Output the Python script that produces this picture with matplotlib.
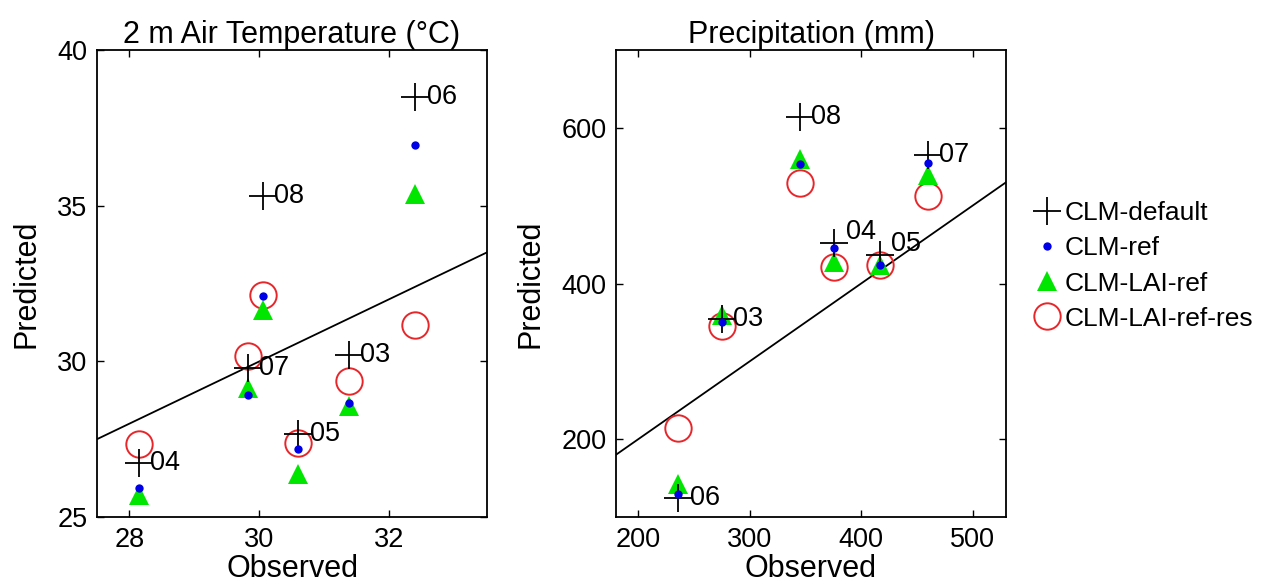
import matplotlib
matplotlib.use('Agg')
import matplotlib.pyplot as plt
import numpy as np

plt.rcParams['font.family'] = ['Liberation Sans', 'DejaVu Sans']

# ---------------- donnees ----------------
years = ['03', '04', '05', '06', '07', '08']

# 2 m air temperature (degC)
t_obs = [31.38, 28.15, 30.60, 32.40, 29.82, 30.05]
t_default = [30.20, 26.72, 27.65, 38.50, 29.79, 35.31]
t_ref = [28.67, 25.93, 27.17, 36.94, 28.93, 32.10]
t_lai = [28.57, 25.72, 26.37, 35.37, 29.15, 31.64]
t_res = [29.37, 27.33, 27.39, 31.16, 30.17, 32.12]

# precipitation (mm)
p_obs = [275, 376, 417, 236, 460, 345]
p_default = [355, 452, 437, 124, 565, 614]
p_ref = [350, 446, 424, 130, 555, 553]
p_lai = [360, 427, 424, 142, 539, 560]
p_res = [345, 421, 424, 214, 513, 529]

series_labels = ['CLM-default', 'CLM-ref', 'CLM-LAI-ref', 'CLM-LAI-ref-res']


def panel(ax, obs, dflt, ref, lai, res, lim_x, lim_y, title, xticks, yticks, raise_lbl=()):
    # droite 1:1
    ax.plot(lim_x, lim_x, color='k', lw=1.3, zorder=1)
    ax.plot(obs, res, 'o', mfc='none', mec='#e8262a', ms=19, mew=1.4, zorder=2, label=series_labels[3])
    ax.plot(obs, lai, '^', color='#00e600', ms=15, mew=0, zorder=3, label=series_labels[2])
    ax.plot(obs, dflt, '+', color='k', ms=20, mew=1.3, zorder=4, label=series_labels[0])
    ax.plot(obs, ref, 'o', color='#0000e6', ms=6, mew=0, zorder=5, label=series_labels[1])
    for yr, xo, yd in zip(years, obs, dflt):
        dy = 8 if yr in raise_lbl else 0
        ax.annotate(yr, (xo, yd), xytext=(8, dy), textcoords='offset points',
                    va='center', ha='left', fontsize=19.5, zorder=6)
    ax.set_xlim(lim_x)
    ax.set_ylim(lim_y)
    ax.set_xticks(xticks)
    ax.set_yticks(yticks)
    ax.tick_params(direction='in', length=5, width=1, top=True, right=True,
                   labelsize=19.5, pad=7)
    for s in ax.spines.values():
        s.set_linewidth(1.3)
    ax.set_title(title, fontsize=22, pad=5)
    ax.set_xlabel('Observed', fontsize=22, labelpad=1)
    ax.set_ylabel('Predicted', fontsize=22, labelpad=11)


fig = plt.figure(figsize=(12.7, 5.88), dpi=100)
ax1 = fig.add_axes([97 / 1270, 1 - 517 / 588, 390 / 1270, 467 / 588])
ax2 = fig.add_axes([616 / 1270, 1 - 517 / 588, 390 / 1270, 467 / 588])

panel(ax1, t_obs, t_default, t_ref, t_lai, t_res, [27.5, 33.5], [25, 40],
      '2 m Air Temperature (°C)', [28, 30, 32], [25, 30, 35, 40])
panel(ax2, p_obs, p_default, p_ref, p_lai, p_res, [180, 530], [100, 700],
      'Precipitation (mm)', [200, 300, 400, 500], [200, 400, 600], raise_lbl=('04', '05'))

h, l = ax2.get_legend_handles_labels()
order = [series_labels.index(x) for x in l]
hl = sorted(zip(order, h, l))
fig.legend([x[1] for x in hl], [x[2] for x in hl], loc='center left',
           bbox_to_anchor=(1030 / 1270, 1 - 266 / 588), frameon=False,
           fontsize=19, handletextpad=0.1, handlelength=1.1, labelspacing=0.42,
           markerscale=1.0, borderpad=0.1, borderaxespad=0.0)

fig.savefig('out.png', dpi=100)
